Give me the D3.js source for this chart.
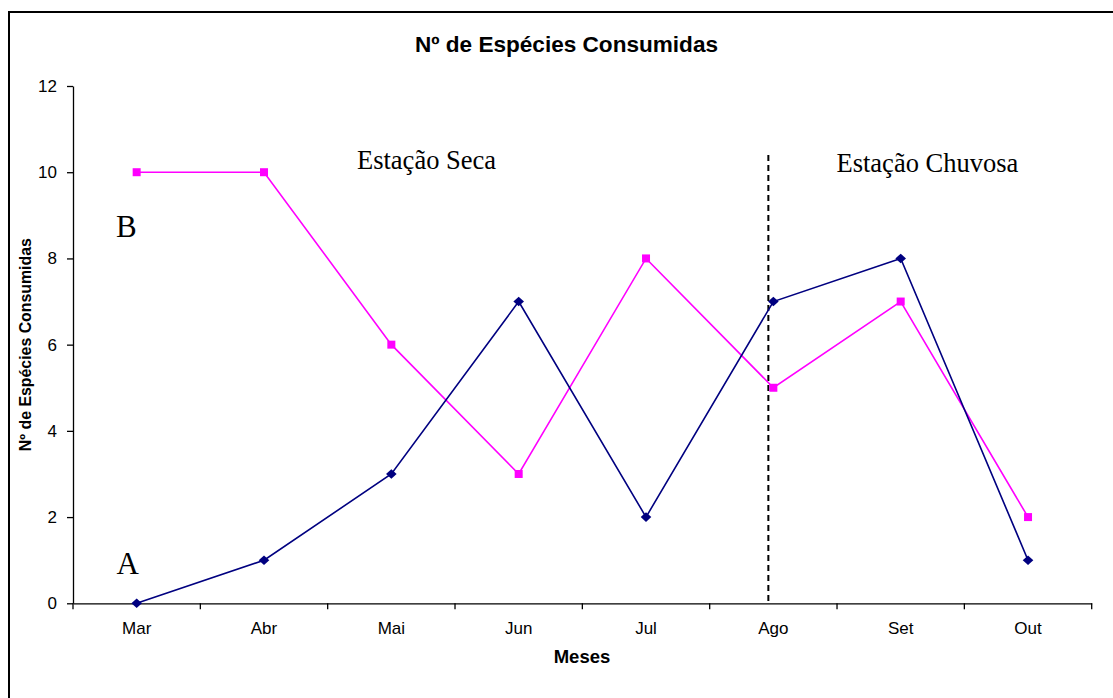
<!DOCTYPE html>
<html>
<head>
<meta charset="utf-8">
<script src="https://cdn.jsdelivr.net/npm/d3@7"></script>
<style>
  html, body { margin: 0; padding: 0; background: #fff; }
  svg { display: block; }
</style>
</head>
<body>
<svg id="chart" width="1113" height="698"></svg>
<script>
// Months of the sampling period
const months = ["Mar", "Abr", "Mai", "Jun", "Jul", "Ago", "Set", "Out"];
// Number of species consumed per month
const seriesA = [0, 1, 3, 7, 2, 7, 8, 1];
const seriesB = [10, 10, 6, 3, 8, 5, 7, 2];
// Y axis tick values
const yTicks = [0, 2, 4, 6, 8, 10, 12];

const svg = d3.select("#chart");
const W = 1113, H = 698;

// outer chart frame
svg.append("rect")
  .attr("x", 9).attr("y", 12)
  .attr("width", W + 10).attr("height", H + 10)
  .attr("fill", "#fff").attr("stroke", "#000").attr("stroke-width", 2);

const x = d3.scaleBand().domain(months).range([73, 1091.7]).padding(0);
const y = d3.scaleLinear().domain([0, 12]).range([603.3, 86]);
const cx = m => x(m) + x.bandwidth() / 2;

const sans = "'Liberation Sans', Arial, sans-serif";
const serif = "'Liberation Serif', 'Times New Roman', serif";

// title
svg.append("text")
  .attr("x", 566.5).attr("y", 51.5)
  .attr("text-anchor", "middle")
  .attr("textLength", 303).attr("lengthAdjust", "spacingAndGlyphs")
  .style("font-family", sans).style("font-weight", "bold").style("font-size", "21.5px")
  .text("Nº de Espécies Consumidas");

// y axis
const yAxis = svg.append("g")
  .attr("transform", "translate(73,0)")
  .call(d3.axisLeft(y).tickValues(yTicks).tickSize(6).tickSizeOuter(0).tickPadding(10));
yAxis.select(".domain").attr("stroke", "#000").attr("stroke-width", 1.3);
yAxis.selectAll(".tick line").attr("stroke", "#000").attr("stroke-width", 1.3);
yAxis.selectAll(".tick text")
  .style("font-family", sans).style("font-size", "17px").attr("fill", "#000");

// x axis: labels at category centres
const xAxis = svg.append("g")
  .attr("transform", `translate(0,${y(0)})`)
  .call(d3.axisBottom(x).tickSize(0).tickSizeOuter(0).tickPadding(18.6));
xAxis.select(".domain").attr("stroke", "#000").attr("stroke-width", 1.3);
xAxis.selectAll(".tick text")
  .style("font-family", sans).style("font-size", "17px").attr("fill", "#000");

// x axis tick marks at category boundaries
const bounds = months.map(m => x(m) + x.bandwidth()).concat([x(months[0])]);
svg.append("g").selectAll("line")
  .data(bounds)
  .join("line")
  .attr("x1", d => d).attr("x2", d => d)
  .attr("y1", y(0)).attr("y2", y(0) + 6)
  .attr("stroke", "#000").attr("stroke-width", 1.3);

// axis titles
svg.append("text")
  .attr("transform", `translate(30.5,${(y(0) + y(12)) / 2}) rotate(-90)`)
  .attr("text-anchor", "middle")
  .attr("textLength", 213).attr("lengthAdjust", "spacingAndGlyphs")
  .style("font-family", sans).style("font-weight", "bold").style("font-size", "16px")
  .text("Nº de Espécies Consumidas");

svg.append("text")
  .attr("x", 582).attr("y", 663)
  .attr("text-anchor", "middle")
  .style("font-family", sans).style("font-weight", "bold").style("font-size", "18.5px")
  .text("Meses");

// season divider
const divX = cx("Ago") - 5;
svg.append("line")
  .attr("x1", divX).attr("x2", divX)
  .attr("y1", y(10.4)).attr("y2", y(0))
  .attr("stroke", "#000").attr("stroke-width", 2)
  .attr("stroke-dasharray", "6,4");

// season labels
svg.append("text")
  .attr("x", 357).attr("y", 168.5)
  .style("font-family", serif).style("font-size", "26.5px")
  .text("Estação Seca");
svg.append("text")
  .attr("x", 836.5).attr("y", 171.5)
  .style("font-family", serif).style("font-size", "26.5px")
  .text("Estação Chuvosa");

// series labels
svg.append("text")
  .attr("x", 116).attr("y", 237)
  .style("font-family", serif).style("font-size", "31px")
  .text("B");
svg.append("text")
  .attr("x", 116.5).attr("y", 573.5)
  .style("font-family", serif).style("font-size", "31px")
  .text("A");

const line = d3.line().x((d, i) => cx(months[i])).y(d => y(d));

// series B (magenta, squares)
svg.append("path")
  .datum(seriesB)
  .attr("d", line)
  .attr("fill", "none").attr("stroke", "#FF00FF").attr("stroke-width", 1.6);
svg.append("g").selectAll("rect")
  .data(seriesB)
  .join("rect")
  .attr("x", (d, i) => cx(months[i]) - 4)
  .attr("y", d => y(d) - 4)
  .attr("width", 8).attr("height", 8)
  .attr("fill", "#FF00FF");

// series A (navy, diamonds)
svg.append("path")
  .datum(seriesA)
  .attr("d", line)
  .attr("fill", "none").attr("stroke", "#000080").attr("stroke-width", 1.6);
svg.append("g").selectAll("path")
  .data(seriesA)
  .join("path")
  .attr("d", (d, i) => {
    const px = cx(months[i]), py = y(d);
    return `M${px},${py - 4.8}L${px + 5.3},${py}L${px},${py + 4.8}L${px - 5.3},${py}Z`;
  })
  .attr("fill", "#000080");
</script>
</body>
</html>
